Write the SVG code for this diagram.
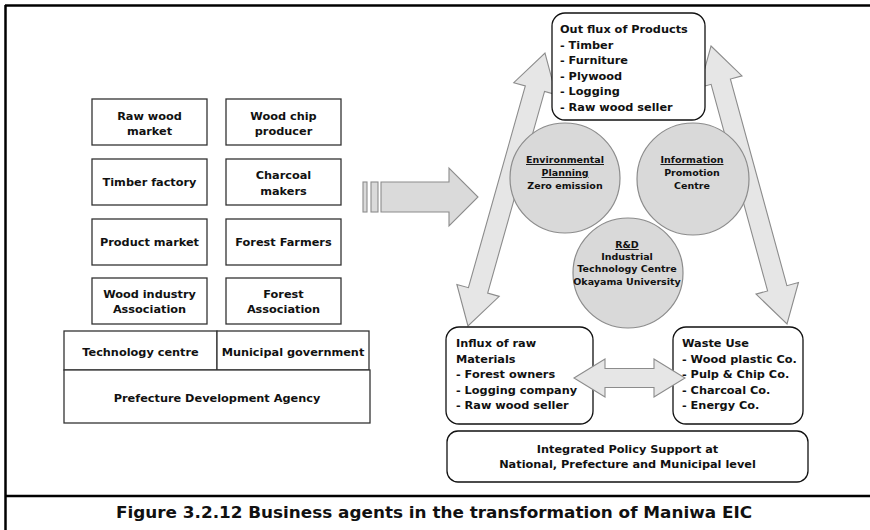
<svg xmlns="http://www.w3.org/2000/svg" width="870" height="530" viewBox="0 0 870 530">
  <style>
    text { font-family: "DejaVu Sans", "Liberation Sans", sans-serif; font-weight: bold; fill: #111; }
    .t { font-size: 11.3px; }
    .c { font-size: 9.5px; text-anchor: middle; }
    .mid { text-anchor: middle; }
    .box { fill: #fff; stroke: #333; stroke-width: 1.3; }
    .rbox { fill: #fff; stroke: #111; stroke-width: 1.3; }
    .circ { fill: #d9d9d9; stroke: #8c8c8c; stroke-width: 1.2; }
    .arr { fill: #e6e6e6; stroke: #8c8c8c; stroke-width: 1.1; stroke-linejoin: miter; }
    .big { fill: #dadada; stroke: #8c8c8c; stroke-width: 1.1; }
    .frame { stroke: #000; stroke-width: 2.5; fill: none; }
    .u { text-decoration: underline; }
  </style>

  <!-- outer frame and caption rule -->
  <g id="frame">
    <line class="frame" x1="5" y1="5.5" x2="870" y2="5.5"/>
    <line class="frame" x1="5.5" y1="5" x2="5.5" y2="530"/>
    <line class="frame" x1="5" y1="496" x2="870" y2="496"/>
  </g>

  <!-- left column: business agents -->
  <g id="raw-wood-market"><rect class="box" x="92" y="99" width="115" height="46"/>
    <text class="t mid" x="149.5" y="120">Raw wood</text><text class="t mid" x="149.5" y="135">market</text></g>
  <g id="wood-chip-producer"><rect class="box" x="226" y="99" width="115" height="46"/>
    <text class="t mid" x="283.5" y="120">Wood chip</text><text class="t mid" x="283.5" y="135">producer</text></g>
  <g id="timber-factory"><rect class="box" x="92" y="159" width="115" height="46"/>
    <text class="t mid" x="149.5" y="186">Timber factory</text></g>
  <g id="charcoal-makers"><rect class="box" x="226" y="159" width="115" height="46"/>
    <text class="t mid" x="283.5" y="179">Charcoal</text><text class="t mid" x="283.5" y="195">makers</text></g>
  <g id="product-market"><rect class="box" x="92" y="219" width="115" height="46"/>
    <text class="t mid" x="149.5" y="246">Product market</text></g>
  <g id="forest-farmers"><rect class="box" x="226" y="219" width="115" height="46"/>
    <text class="t mid" x="283.5" y="246">Forest Farmers</text></g>
  <g id="wood-industry-association"><rect class="box" x="92" y="278" width="115" height="46"/>
    <text class="t mid" x="149.5" y="298">Wood industry</text><text class="t mid" x="149.5" y="313">Association</text></g>
  <g id="forest-association"><rect class="box" x="226" y="278" width="115" height="46"/>
    <text class="t mid" x="283.5" y="298">Forest</text><text class="t mid" x="283.5" y="313">Association</text></g>
  <g id="technology-centre"><rect class="box" x="64" y="331" width="153" height="39"/>
    <text class="t mid" x="140.5" y="356">Technology centre</text></g>
  <g id="municipal-government"><rect class="box" x="217" y="331" width="152" height="39"/>
    <text class="t mid" x="293" y="356">Municipal government</text></g>
  <g id="prefecture-development-agency"><rect class="box" x="64" y="370" width="306" height="53"/>
    <text class="t mid" x="217" y="402">Prefecture Development Agency</text></g>

  <!-- connectors -->
  <g id="connectors">
    <!-- transformation arrow -->
    <rect class="big" x="363" y="182" width="4" height="30"/>
    <rect class="big" x="371" y="182" width="7" height="30"/>
    <polygon class="big" points="381,182 449,182 449,168 478,197 449,226 449,212 381,212"/>
    <!-- influx <-> out flux -->
    <polygon class="arr" transform="translate(468 326) rotate(-74.25)"
      points="0,0 37,-22 37,-10 246.6,-10 246.6,-22 283.6,0 246.6,22 246.6,10 37,10 37,22"/>
    <!-- out flux <-> waste use -->
    <polygon class="arr" transform="translate(711 46) rotate(74.71)"
      points="0,0 37,-22 37,-10 251.2,-10 251.2,-22 288.2,0 251.2,22 251.2,10 37,10 37,22"/>
  </g>

  <!-- support circles -->
  <g id="environmental-planning"><circle class="circ" cx="565" cy="178" r="55"/>
    <text class="c" x="565" y="163"><tspan class="u">Environmental</tspan></text>
    <text class="c" x="565" y="176"><tspan class="u">Planning</tspan></text>
    <text class="c" x="565" y="189">Zero emission</text></g>
  <g id="information-promotion"><circle class="circ" cx="693" cy="179" r="56"/>
    <text class="c" x="692" y="163"><tspan class="u">Information</tspan></text>
    <text class="c" x="692" y="176">Promotion</text>
    <text class="c" x="692" y="189">Centre</text></g>
  <g id="research-development"><circle class="circ" cx="628" cy="273" r="55"/>
    <text class="c" x="627" y="248"><tspan class="u">R&amp;D</tspan></text>
    <text class="c" x="627" y="260">Industrial</text>
    <text class="c" x="627" y="272">Technology Centre</text>
    <text class="c" x="627" y="285">Okayama University</text></g>

  <!-- flow boxes -->
  <g id="out-flux"><rect class="rbox" x="552" y="13" width="153" height="107" rx="13"/>
    <text class="t" x="560" y="33">Out flux of Products</text>
    <text class="t" x="560" y="48.5">- Timber</text>
    <text class="t" x="560" y="64">- Furniture</text>
    <text class="t" x="560" y="79.5">- Plywood</text>
    <text class="t" x="560" y="95">- Logging</text>
    <text class="t" x="560" y="110.5">- Raw wood seller</text></g>
  <g id="influx"><rect class="rbox" x="446" y="327" width="147" height="97" rx="13"/>
    <text class="t" x="456" y="347">Influx of raw</text>
    <text class="t" x="456" y="362.5">Materials</text>
    <text class="t" x="456" y="378">- Forest owners</text>
    <text class="t" x="456" y="393.5">- Logging company</text>
    <text class="t" x="456" y="409">- Raw wood seller</text></g>
  <g id="waste-use"><rect class="rbox" x="673" y="327" width="130" height="97" rx="13"/>
    <text class="t" x="682" y="347">Waste Use</text>
    <text class="t" x="682" y="362.5">- Wood plastic Co.</text>
    <text class="t" x="682" y="378">- Pulp &amp; Chip Co.</text>
    <text class="t" x="682" y="393.5">- Charcoal Co.</text>
    <text class="t" x="682" y="409">- Energy Co.</text></g>
  <g id="policy-support"><rect class="rbox" x="447" y="431" width="361" height="51" rx="11"/>
    <text class="t mid" x="627.5" y="453">Integrated Policy Support at</text>
    <text class="t mid" x="627.5" y="467.5">National, Prefecture and Municipal level</text></g>

  <!-- exchange between influx and waste use -->
  <g id="exchange-arrow">
    <polygon class="arr" points="574,378 605,359 605,368.5 654,368.5 654,359 685,378 654,397 654,387.5 605,387.5 605,397"/>
  </g>

  <text id="caption" x="434" y="518" class="mid" style="font-size:16px" textLength="636" lengthAdjust="spacingAndGlyphs">Figure 3.2.12 Business agents in the transformation of Maniwa EIC</text>
</svg>
